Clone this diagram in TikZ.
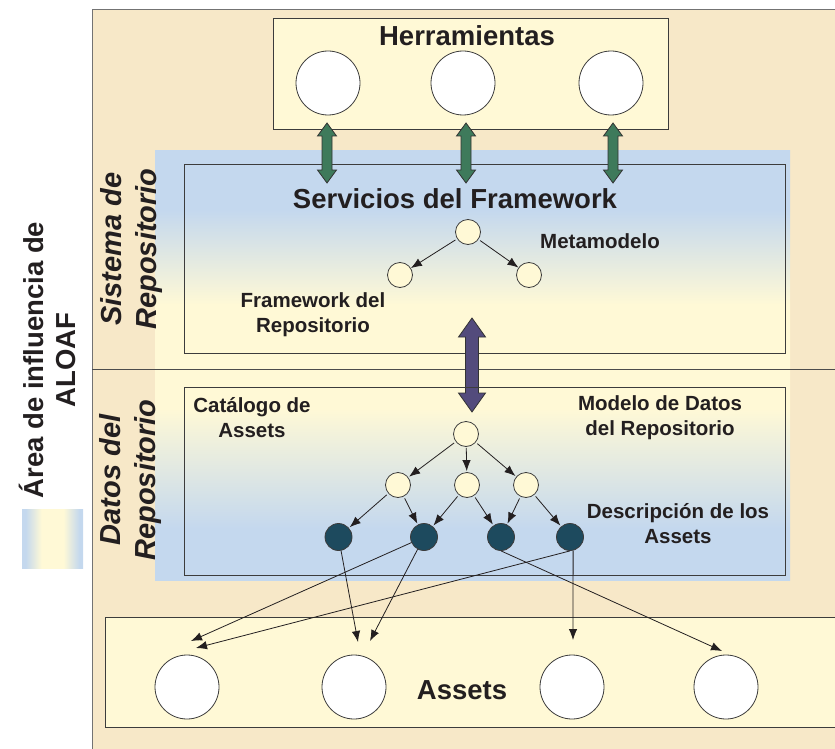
\documentclass[tikz,border=0pt]{standalone}
\usepackage{fontspec}
\setmainfont{Liberation Sans}
\usetikzlibrary{arrows.meta}

\definecolor{fondo}{RGB}{247,232,200}
\definecolor{crema}{RGB}{255,249,214}
\definecolor{azul}{RGB}{196,216,238}
\definecolor{verde}{RGB}{62,122,91}
\definecolor{morado}{RGB}{83,75,124}
\definecolor{petroleo}{RGB}{29,74,94}
\definecolor{borde}{RGB}{60,60,60}
\definecolor{tinta}{RGB}{35,31,32}

\pgfdeclareverticalshading{aloafv}{100bp}{color(0bp)=(azul); color(31bp)=(azul); color(45bp)=(crema); color(57bp)=(crema); color(68bp)=(azul); color(100bp)=(azul)}
\pgfdeclarehorizontalshading{aloafh}{100bp}{color(0bp)=(azul); color(28bp)=(azul); color(41bp)=(crema); color(59bp)=(crema); color(72bp)=(azul); color(100bp)=(azul)}

\begin{document}
\begin{tikzpicture}[x=1pt,y=-1pt,
    caja/.style={draw=borde,line width=0.8pt},
    herr/.style={circle,draw=borde,fill=white,line width=0.8pt,minimum size=64pt,inner sep=0pt},
    clase/.style={circle,draw=borde,fill=crema,line width=0.8pt,minimum size=25pt,inner sep=0pt},
    desc/.style={circle,draw=borde,fill=petroleo,line width=0.8pt,minimum size=27pt,inner sep=0pt},
    flecha/.style={-{Latex[length=11pt,width=8.5pt]},line width=0.8pt,draw=tinta},
    gruesa/.style={draw=black!80,line width=0.8pt,line join=miter},
    titulo/.style={font=\fontsize{27.5}{32}\selectfont\bfseries,text=tinta},
    etiq/.style={font=\fontsize{20.5}{25}\selectfont\bfseries,align=center,text=tinta},
    lado/.style={font=\fontsize{29}{35}\selectfont\bfseries\itshape,align=center,rotate=90,text=tinta}]
    \useasboundingbox (0,0) rectangle (835,749);

    % Fondo y marco
    \fill[fondo] (92,10) rectangle (840,755);
    \draw[black!55,line width=1pt] (92,755) -- (92,10) -- (840,10);

    % Area de influencia
    \shade[shading=aloafv] (155,150) rectangle (790,580);
    \draw[black!70,line width=0.8pt] (92,369) -- (840,369);

    % Leyenda
    \shade[shading=aloafh] (22,509) rectangle (83,568);
    \node[font=\fontsize{27.5}{32}\selectfont\bfseries,align=center,rotate=90,text=tinta] (ley) at (47,360) {Área de influencia de\\ALOAF};

    % Etiquetas laterales
    \node[lado] (sis) at (132,249) {Sistema de\\Repositorio};
    \node[lado] (dat) at (130,480) {Datos del\\Repositorio};

    % Herramientas
    \draw[caja,fill=crema] (273,18) rectangle (668,129);
    \node[titulo] (tHerr) at (467,36) {Herramientas};
    \node[herr] (h1) at (328,83) {};
    \node[herr] (h2) at (463,83) {};
    \node[herr] (h3) at (611,83) {};

    % Servicios del Framework
    \draw[caja] (184,164) rectangle (785,353);
    \node[titulo] (tServ) at (455,199) {Servicios del Framework};
    \node[clase] (m0) at (468,232) {};
    \node[clase] (m1) at (400,275) {};
    \node[clase] (m2) at (529,275) {};
    \draw[flecha,shorten <=2pt] (m0) -- (m1);
    \draw[flecha,shorten <=2pt] (m0) -- (m2);
    \node[etiq] (tMeta) at (600,241) {Metamodelo};
    \node[etiq] (tFw) at (313,315) {Framework del\\Repositorio};

    % Flechas gruesas
    \draw[gruesa,fill=verde] (327,123) -- ++(9.5,13) -- ++(-4.5,0) -- ++(0,34) -- ++(4.5,0) -- ++(-9.5,13)
        -- ++(-9.5,-13) -- ++(4.5,0) -- ++(0,-34) -- ++(-4.5,0) -- cycle;
    \draw[gruesa,fill=verde] (466,123) -- ++(9.5,13) -- ++(-4.5,0) -- ++(0,34) -- ++(4.5,0) -- ++(-9.5,13)
        -- ++(-9.5,-13) -- ++(4.5,0) -- ++(0,-34) -- ++(-4.5,0) -- cycle;
    \draw[gruesa,fill=verde] (613,123) -- ++(9.5,13) -- ++(-4.5,0) -- ++(0,34) -- ++(4.5,0) -- ++(-9.5,13)
        -- ++(-9.5,-13) -- ++(4.5,0) -- ++(0,-34) -- ++(-4.5,0) -- cycle;
    \draw[gruesa,fill=morado] (472,318) -- ++(13.5,19) -- ++(-7,0) -- ++(0,56) -- ++(7,0) -- ++(-13.5,19)
        -- ++(-13.5,-19) -- ++(7,0) -- ++(0,-56) -- ++(-7,0) -- cycle;

    % Datos del Repositorio
    \draw[caja] (184,387) rectangle (785,575);
    \node[etiq] (tCat) at (252,418) {Catálogo de\\Assets};
    \node[etiq] (tMod) at (660,418) {Modelo de Datos\\del Repositorio};
    \node[etiq] (tDesc) at (678,524) {Descripción de los\\Assets};
    \node[clase] (d0) at (466,434) {};
    \node[clase] (c1) at (398,485) {};
    \node[clase] (c2) at (467,485) {};
    \node[clase] (c3) at (526,485) {};
    \node[desc] (k1) at (338.5,537) {};
    \node[desc] (k2) at (424,537) {};
    \node[desc] (k3) at (501,537) {};
    \node[desc] (k4) at (570,537) {};
    \draw[flecha,shorten <=2pt,shorten >=1pt] (d0) -- (c1);
    \draw[flecha,shorten <=1pt,shorten >=1pt] (d0) -- (c2);
    \draw[flecha,shorten <=2pt,shorten >=1pt] (d0) -- (c3);
    \draw[flecha,shorten <=2pt,shorten >=1pt] (c1) -- (k1);
    \draw[flecha,shorten <=2pt,shorten >=1pt] (c1) -- (k2);
    \draw[flecha,shorten <=2pt,shorten >=1pt] (c2) -- (k2);
    \draw[flecha,shorten <=2pt,shorten >=1pt] (c2) -- (k3);
    \draw[flecha,shorten <=2pt,shorten >=1pt] (c3) -- (k3);
    \draw[flecha,shorten <=2pt,shorten >=1pt] (c3) -- (k4);

    % Assets
    \draw[caja,fill=crema] (105,617) rectangle (840,727);
    \node[titulo] (tAss) at (462,690) {Assets};
    \node[herr] (a1) at (187,687) {};
    \node[herr] (a2) at (354,687) {};
    \node[herr] (a3) at (572,687) {};
    \node[herr] (a4) at (726,687) {};
    \coordinate (p1) at (191,641);
    \coordinate (p2) at (196,648);
    \coordinate (p3) at (358,642);
    \coordinate (p4) at (370,641);
    \coordinate (p5) at (573,640);
    \coordinate (p6) at (722,651);
    \draw[flecha] (k1) -- (p3);
    \draw[flecha] (k2) -- (p4);
    \draw[flecha] (k2) -- (p1);
    \draw[flecha] (k4.south) -- (p2);
    \draw[flecha] (k4.-77) -- (p5);
    \draw[flecha] (k3.south) -- (p6);
\end{tikzpicture}
\end{document}
